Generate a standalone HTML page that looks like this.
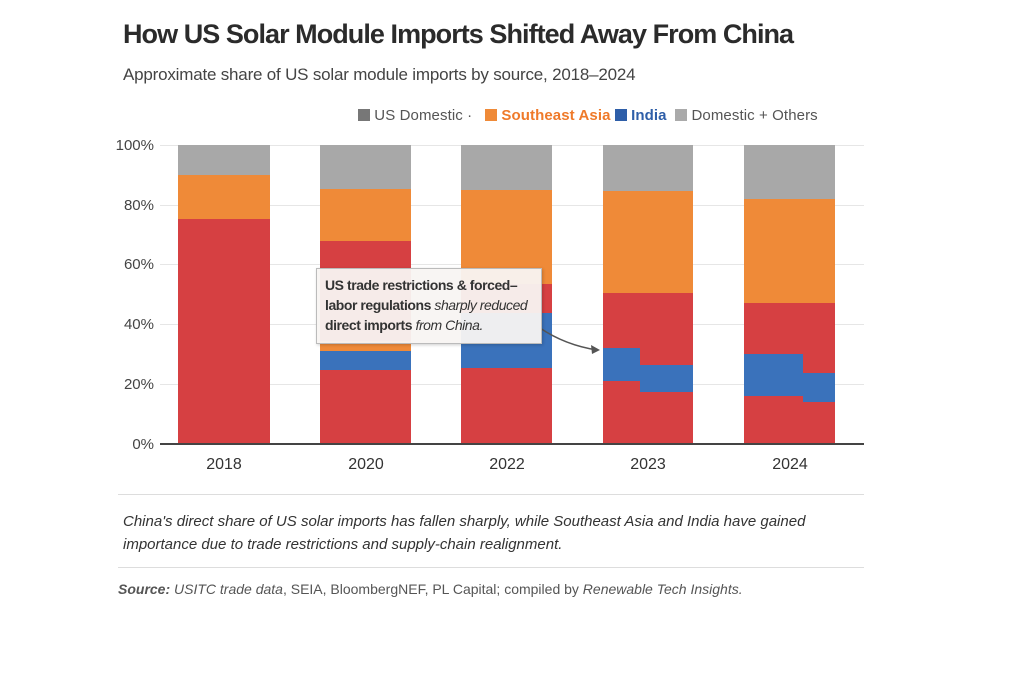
<!DOCTYPE html><html><head><style>
body{margin:0;width:1024px;height:683px;background:#fff;font-family:"Liberation Sans",sans-serif;position:relative;overflow:hidden}
.a{position:absolute}
.g{position:absolute;left:160px;width:704px;height:1px;background:#e6e6e6}
.yl{position:absolute;left:108px;width:46px;text-align:right;font-size:15px;color:#444}
.xl{position:absolute;top:456px;font-size:16px;color:#333;width:92px;text-align:center}
.r{background:#d64042}.o{background:#ef8a38}.b{background:#3a72bb}.gr{background:#a8a8a8}
</style></head><body>
<div class="a" style="left:123px;top:19px;font-size:27px;font-weight:bold;color:#2b2b2b;letter-spacing:-0.95px;white-space:nowrap">How US Solar Module Imports Shifted Away From China</div>
<div class="a" style="left:123px;top:65px;font-size:17px;color:#444;letter-spacing:-0.2px">Approximate share of US solar module imports by source, 2018–2024</div>
<div class="a" style="left:358px;top:107px;font-size:15px;color:#555;white-space:nowrap;letter-spacing:0.1px">
<span style="display:inline-block;width:12px;height:12px;background:#777;vertical-align:-1px"></span> US Domestic ·&nbsp;&nbsp;
<span style="display:inline-block;width:12px;height:12px;background:#ef8a38;vertical-align:-1px"></span> <b style="color:#ef7a2a">Southeast Asia</b>
<span style="display:inline-block;width:12px;height:12px;background:#2e5ea8;vertical-align:-1px"></span> <b style="color:#2e5ea8">India</b>&nbsp;
<span style="display:inline-block;width:12px;height:12px;background:#aaa;vertical-align:-1px"></span> Domestic + Others</div>
<div class="g" style="top:145px"></div><div class="g" style="top:205px"></div><div class="g" style="top:264px"></div><div class="g" style="top:324px"></div><div class="g" style="top:384px"></div>
<div class="yl" style="top:137px">100%</div><div class="yl" style="top:197px">80%</div><div class="yl" style="top:256px">60%</div><div class="yl" style="top:316px">40%</div><div class="yl" style="top:376px">20%</div><div class="yl" style="top:436px">0%</div>
<div class="a gr" style="left:178px;width:92px;top:145px;height:30px"></div>
<div class="a o" style="left:178px;width:92px;top:175px;height:44px"></div>
<div class="a r" style="left:178px;width:92px;top:219px;height:225px"></div>
<div class="a gr" style="left:320px;width:91px;top:145px;height:44px"></div>
<div class="a o" style="left:320px;width:91px;top:189px;height:52px"></div>
<div class="a r" style="left:320px;width:91px;top:241px;height:100px"></div>
<div class="a o" style="left:320px;width:91px;top:341px;height:10px"></div>
<div class="a b" style="left:320px;width:91px;top:351px;height:19px"></div>
<div class="a r" style="left:320px;width:91px;top:370px;height:74px"></div>
<div class="a gr" style="left:461px;width:91px;top:145px;height:45px"></div>
<div class="a o" style="left:461px;width:91px;top:190px;height:94px"></div>
<div class="a r" style="left:461px;width:91px;top:284px;height:29px"></div>
<div class="a b" style="left:461px;width:91px;top:313px;height:55px"></div>
<div class="a r" style="left:461px;width:91px;top:368px;height:76px"></div>
<div class="a gr" style="left:603px;width:90px;top:145px;height:46px"></div>
<div class="a o" style="left:603px;width:90px;top:191px;height:102px"></div>
<div class="a r" style="left:603px;width:90px;top:293px;height:151px"></div>
<div class="a b" style="left:603px;width:37px;top:348px;height:33px"></div>
<div class="a b" style="left:640px;width:53px;top:365px;height:27px"></div>
<div class="a gr" style="left:744px;width:91px;top:145px;height:54px"></div>
<div class="a o" style="left:744px;width:91px;top:199px;height:104px"></div>
<div class="a r" style="left:744px;width:91px;top:303px;height:141px"></div>
<div class="a b" style="left:744px;width:59px;top:354px;height:42px"></div>
<div class="a b" style="left:803px;width:32px;top:373px;height:29px"></div>
<div class="a" style="left:160px;width:704px;top:443px;height:2px;background:#444"></div>
<div class="xl" style="left:178px">2018</div><div class="xl" style="left:320px">2020</div><div class="xl" style="left:461px">2022</div><div class="xl" style="left:602px">2023</div><div class="xl" style="left:744px">2024</div>
<svg class="a" style="left:0;top:0" width="1024" height="683"><path d="M540 328 Q565 345 597 350" fill="none" stroke="#555" stroke-width="1.5"/><path d="M600 350 L591 345 L592 354 Z" fill="#555"/></svg>
<div class="a" style="left:316px;top:268px;width:208px;height:62px;padding:6px 8px;background:rgba(248,244,242,0.95);border:1px solid #bbb;box-shadow:1px 1px 3px rgba(0,0,0,.2);font-size:14px;line-height:20px;color:#333;letter-spacing:-0.45px;white-space:nowrap"><b>US trade restrictions &amp; forced–</b><br><b>labor regulations</b> <i>sharply reduced</i><br><b>direct imports</b> <i>from China.</i></div>
<div class="a" style="left:118px;top:494px;width:746px;height:1px;background:#ddd"></div>
<div class="a" style="left:123px;top:510px;width:740px;font-size:15px;line-height:23px;font-style:italic;color:#333">China's direct share of US solar imports has fallen sharply, while Southeast Asia and India have gained importance due to trade restrictions and supply-chain realignment.</div>
<div class="a" style="left:118px;top:567px;width:746px;height:1px;background:#ddd"></div>
<div class="a" style="left:118px;top:581px;font-size:14px;color:#555"><b><i>Source:</i></b> <i>USITC trade data</i>, SEIA, BloombergNEF, PL Capital; compiled by <i>Renewable Tech Insights.</i></div>
</body></html>
